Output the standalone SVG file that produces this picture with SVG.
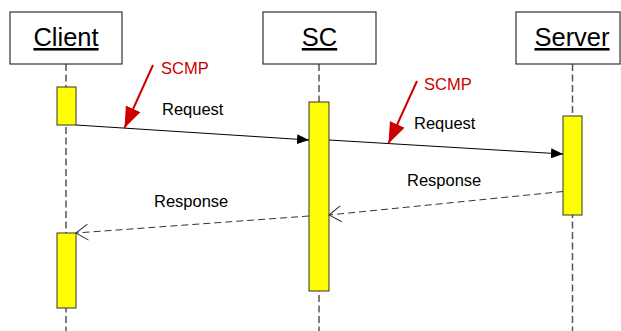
<svg xmlns="http://www.w3.org/2000/svg" width="621" height="331" viewBox="0 0 621 331">
<style>
.box{fill:#fff;stroke:#333;stroke-width:1.2}
.title{font-family:"Liberation Sans",Arial,sans-serif;font-size:25.5px;fill:#000;text-anchor:middle;text-decoration:underline}
.life{stroke:#555;stroke-width:1.5;stroke-dasharray:7,3.5;fill:none}
.act{fill:#ffff00;stroke:#333;stroke-width:1}
.lbl{font-family:"Liberation Sans",Arial,sans-serif;font-size:16.5px;fill:#000}
.red{font-family:"Liberation Sans",Arial,sans-serif;font-size:16.5px;fill:#cc0000}
.msg{stroke:#000;stroke-width:1;fill:none}
.ret{stroke:#333;stroke-width:1;stroke-dasharray:7,4;fill:none}
.pointer{stroke:#cc0000;stroke-width:2;fill:none}
</style>
<defs>
<marker id="filled" markerWidth="12" markerHeight="10" refX="12" refY="5" orient="auto" markerUnits="userSpaceOnUse">
<path d="M0,0 L12,5 L0,10 Z" fill="#000"/>
</marker>
<marker id="open" markerWidth="14" markerHeight="18" refX="13" refY="9" orient="auto" markerUnits="userSpaceOnUse">
<path d="M1,1 L13,9 L1,17" fill="none" stroke="#333" stroke-width="1"/>
</marker>
<marker id="redhead" markerWidth="22" markerHeight="16" refX="21" refY="8" orient="auto" markerUnits="userSpaceOnUse">
<path d="M0,0 L21,8 L0,16 Z" fill="#cc0000"/>
</marker>
</defs>
<g id="lifelines">
<line class="life" x1="66" y1="64" x2="66" y2="331"/>
<line class="life" x1="319" y1="64" x2="319" y2="331"/>
<line class="life" x1="572.5" y1="64" x2="572.5" y2="331"/>
</g>
<g id="client">
<rect class="box" x="10" y="12" width="112" height="52"/>
<text class="title" x="66" y="46">Client</text>
<rect class="act" x="57" y="87" width="19" height="38"/>
<rect class="act" x="57" y="233" width="19" height="75"/>
</g>
<g id="sc">
<rect class="box" x="263" y="12" width="113" height="52"/>
<text class="title" x="319.5" y="46">SC</text>
<rect class="act" x="309" y="102" width="20" height="189"/>
</g>
<g id="server">
<rect class="box" x="516" y="12" width="104" height="52"/>
<text class="title" x="572" y="46">Server</text>
<rect class="act" x="563" y="116" width="19" height="99"/>
</g>
<g id="connectors">
<line class="msg" x1="76" y1="125" x2="309" y2="140" marker-end="url(#filled)"/>
<line class="msg" x1="329" y1="140" x2="563" y2="154" marker-end="url(#filled)"/>
<line class="ret" x1="563" y1="191.5" x2="329" y2="215" marker-end="url(#open)"/>
<line class="ret" x1="309" y1="216" x2="76" y2="233" marker-end="url(#open)"/>
<line class="pointer" x1="153" y1="65" x2="124.5" y2="128" marker-end="url(#redhead)"/>
<line class="pointer" x1="417" y1="81" x2="388.5" y2="143.5" marker-end="url(#redhead)"/>
</g>
<g id="labels">
<text class="lbl" x="162" y="115">Request</text>
<text class="lbl" x="414" y="129">Request</text>
<text class="lbl" x="407" y="186">Response</text>
<text class="lbl" x="154" y="207">Response</text>
<text class="red" x="161" y="74">SCMP</text>
<text class="red" x="424" y="90">SCMP</text>
</g>
</svg>
